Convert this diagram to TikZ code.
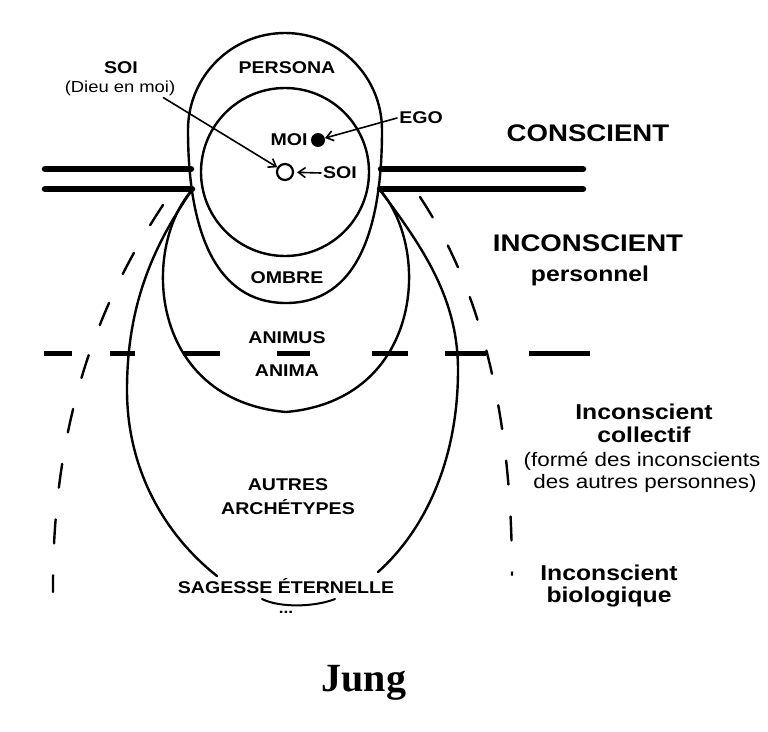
\documentclass[tikz,border=0pt]{standalone}
\usepackage{fontspec}
\newfontfamily\lblfont[FakeStretch=1.15]{Liberation Sans}
\newfontfamily\jungfont{Liberation Serif}
\usetikzlibrary{arrows.meta}

\begin{document}
\begin{tikzpicture}[line cap=round,line join=round,x=1pt,y=-1pt,
  lbl/.style={font=\lblfont\bfseries\fontsize{17}{17}\selectfont,inner sep=0pt},
  lvl/.style={font=\lblfont\bfseries\fontsize{24}{24}\selectfont,inner sep=0pt},
  sublvl/.style={font=\lblfont\bfseries\fontsize{21.5}{22}\selectfont,inner sep=0pt},
  remark/.style={font=\lblfont\fontsize{19.5}{20}\selectfont,inner sep=0pt},
  curve/.style={line width=2.4pt},
  pointer/.style={line width=1.6pt,-{Straight Barb[length=7pt,width=10pt]}}]
\fill[white] (0,0) rectangle (768,731);
\useasboundingbox (0,0) rectangle (768,731);
% conscient / inconscient border
\draw[line width=6.5pt] (45,169) -- (191,169);
\draw[line width=6.5pt] (45,189) -- (192,189);
\draw[line width=6.5pt] (381,169) -- (583,169);
\draw[line width=6.5pt] (380,189) -- (583,189);
% personnel / collectif border
\foreach \a/\b in {44/72,110/135,183/220,277/310,372/408,445/486,529/590}
\draw[line width=5pt,line cap=butt] (\a,353) -- (\b,353);
% persona and ombre
\draw[curve] (188,130) arc (180:360:97) .. controls (382,230) and (357,303) .. (286,303)
  .. controls (215,303) and (188,230) .. (188,130);
% moi
\draw[curve] (285,172) circle (84);
% animus / anima
\draw[curve] (192,190) .. controls (140,250) and (150,400) .. (286,412)
  .. controls (422,400) and (432,250) .. (380,190);
% autres archetypes
\draw[curve] (192,190) .. controls (150,250) and (127,310) .. (127,390)
  .. controls (127,470) and (165,535) .. (217,576);
\draw[curve] (380,190) .. controls (425,250) and (458,300) .. (458,370)
  .. controls (458,460) and (425,530) .. (378,572);
% inconscient biologique
\draw[curve,dash pattern=on 24pt off 32pt] (163,205) .. controls (100,300) and (52,420) .. (53,592);
\draw[curve,dash pattern=on 24pt off 32pt] (420,197) .. controls (475,280) and (512,400) .. (512,575);
\draw[line width=2pt] (262,599) .. controls (280,608) and (315,607) .. (335,599);
% centre
\node[circle,draw,line width=2.2pt,minimum size=16pt,inner sep=0pt] (petitsoi) at (285,172) {};
\node[circle,fill,minimum size=14pt,inner sep=0pt] (egodot) at (318,140) {};
% labels
\node[lbl] (soihaut) at (121,68) {SOI};
\node[font=\lblfont\fontsize{16}{16}\selectfont,inner sep=0pt] (dieu) at (120,88) {(Dieu en moi)};
\node[lbl] (persona) at (287,68) {PERSONA};
\node[lbl] (ego) at (421,118) {EGO};
\node[lbl] (moi) at (289,140) {MOI};
\node[lbl] (soi) at (340,173) {SOI};
\node[lbl] (ombre) at (287,278) {OMBRE};
\node[lbl] (animus) at (287,338) {ANIMUS};
\node[lbl] (anima) at (287,371) {ANIMA};
\node[lbl] (autres) at (288,485) {AUTRES};
\node[lbl] (archetypes) at (288,507) {ARCHÉTYPES};
\node[lbl] (sagesse) at (286,586) {SAGESSE ÉTERNELLE};
\node[font=\lblfont\bfseries\fontsize{15}{15}\selectfont,inner sep=0pt] (suite) at (286,612) {...};
\node[lvl] (conscient) at (588,133) {CONSCIENT};
\node[lvl] (inconscient) at (588,243) {INCONSCIENT};
\node[sublvl] (personnel) at (590,276) {personnel};
\node[sublvl] (incoll) at (644,412) {Inconscient};
\node[sublvl] (collectif) at (644,435) {collectif};
\node[remark] (forme) at (642,461) {(formé des inconscients};
\node[remark] (autrespers) at (645,483) {des autres personnes)};
\node[sublvl] (incbio) at (609,573) {Inconscient};
\node[sublvl] (biologique) at (609,597) {biologique};
\node[font=\jungfont\bfseries\fontsize{40}{40}\selectfont,inner sep=0pt] (jung) at (364,683) {Jung};
% arrows
\draw[pointer] ([xshift=-12pt,yshift=-2pt]dieu.south east) -- (petitsoi);
\draw[pointer] ([xshift=-2pt]ego.west) -- (egodot);
\draw[pointer,shorten >=3pt] ([xshift=-2pt]soi.west) -- (petitsoi);
\end{tikzpicture}
\end{document}
